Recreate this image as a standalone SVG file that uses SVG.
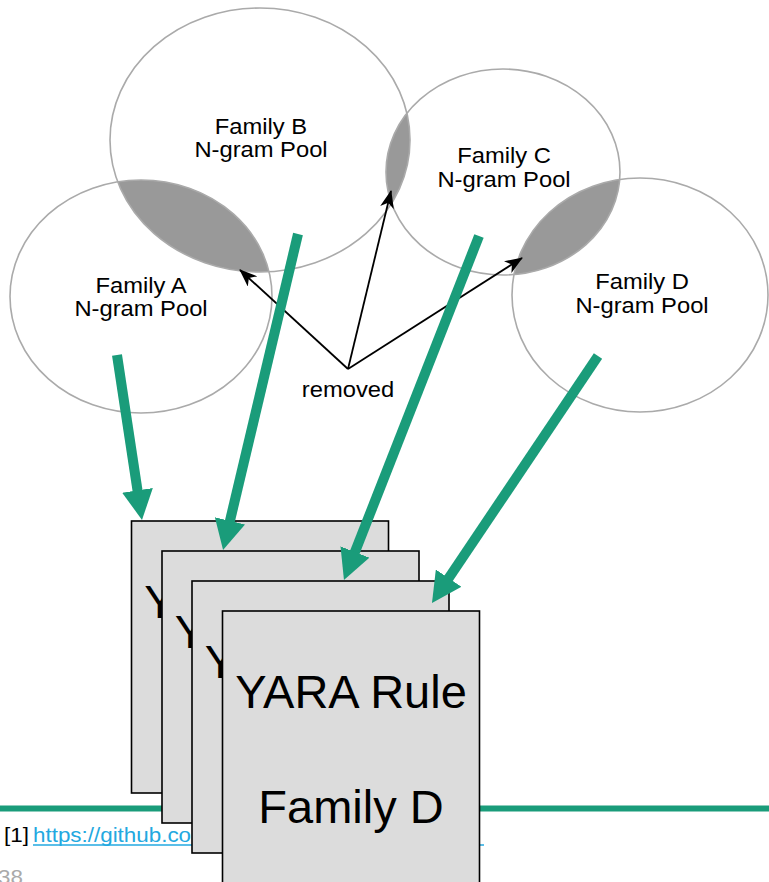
<svg xmlns="http://www.w3.org/2000/svg" width="769" height="882" viewBox="0 0 769 882">
  <style>
    .pool { fill: none; stroke: #aaaaaa; stroke-width: 1.6; }
    .lens { fill: #999999; }
    .lbl { font-family: "Liberation Sans", Arial, sans-serif; font-size: 22px; fill: #000; text-anchor: middle; }
    .card { fill: #dcdcdc; stroke: #000; stroke-width: 1.6; }
    .cardtxt { font-family: "Liberation Sans", Arial, sans-serif; font-size: 47px; fill: #000; text-anchor: middle; }
    .flow { stroke: #1a9c7a; stroke-width: 10; fill: none; }
    .rm { stroke: #000; stroke-width: 1.8; fill: none; }
    .foot { font-family: "Liberation Sans", Arial, sans-serif; font-size: 20px; }
  </style>
  <defs>
    <clipPath id="clipB"><ellipse cx="260" cy="140" rx="150" ry="132"/></clipPath>
    <clipPath id="clipD"><ellipse cx="640" cy="295" rx="128" ry="117"/></clipPath>
    <marker id="greenHead" viewBox="0 0 30 31" markerWidth="30" markerHeight="31" refX="2" refY="15.5" orient="auto" markerUnits="userSpaceOnUse">
      <path d="M0,0 L30,15.5 L0,31 z" fill="#1a9c7a"/>
    </marker>
    <marker id="blackHead" viewBox="0 0 18 14" markerWidth="18" markerHeight="14" refX="17" refY="7" orient="auto" markerUnits="userSpaceOnUse">
      <path d="M0,0 L18,7 L0,14 L5,7 z" fill="#000"/>
    </marker>
  </defs>

  <!-- separator rule and footnote -->
  <line x1="0" y1="808.5" x2="769" y2="808.5" stroke="#1a9c7a" stroke-width="6"/>
  <text class="foot" transform="translate(4,842) scale(1.12,1)" fill="#000">[1]</text>
  <text class="foot" transform="translate(33,842) scale(1.12,1)" fill="#23a8e0">https://github.com</text>
  <line x1="33" y1="845" x2="484" y2="845" stroke="#23a8e0" stroke-width="1.5"/>
  <text class="foot" transform="translate(-2,884) scale(1.12,1)" fill="#aaaaaa" font-size="17">38</text>

  <!-- shared n-grams between neighbouring pools -->
  <g id="overlaps">
    <ellipse class="lens" cx="141" cy="296.5" rx="131" ry="116.5" clip-path="url(#clipB)"/>
    <ellipse class="lens" cx="503" cy="172" rx="117" ry="103" clip-path="url(#clipB)"/>
    <ellipse class="lens" cx="503" cy="172" rx="117" ry="103" clip-path="url(#clipD)"/>
  </g>
  <g id="poolA">
    <ellipse class="pool" cx="141" cy="296.5" rx="131" ry="116.5"/>
    <text class="lbl" transform="translate(141,293) scale(1.08,1)"><tspan x="0" y="0">Family A</tspan><tspan x="0" y="23">N-gram Pool</tspan></text>
  </g>
  <g id="poolB">
    <ellipse class="pool" cx="260" cy="140" rx="150" ry="132"/>
    <text class="lbl" transform="translate(261,134) scale(1.08,1)"><tspan x="0" y="0">Family B</tspan><tspan x="0" y="23">N-gram Pool</tspan></text>
  </g>
  <g id="poolC">
    <ellipse class="pool" cx="503" cy="172" rx="117" ry="103"/>
    <text class="lbl" transform="translate(504,163) scale(1.08,1)"><tspan x="0" y="0">Family C</tspan><tspan x="0" y="24">N-gram Pool</tspan></text>
  </g>
  <g id="poolD">
    <ellipse class="pool" cx="640" cy="295" rx="128" ry="117"/>
    <text class="lbl" transform="translate(642,289) scale(1.08,1)"><tspan x="0" y="0">Family D</tspan><tspan x="0" y="24">N-gram Pool</tspan></text>
  </g>

  <!-- removed n-grams -->
  <g id="removed">
    <text class="lbl" transform="translate(348,397) scale(1.08,1)">removed</text>
  </g>

  <!-- stacked YARA rule cards -->
  <g id="ruleA">
    <rect class="card" x="131.5" y="521" width="257" height="272"/>
    <text class="cardtxt" x="260" y="618">YARA Rule</text>
  </g>
  <g id="ruleB">
    <rect class="card" x="162" y="551" width="257" height="272"/>
    <text class="cardtxt" x="290.5" y="648">YARA Rule</text>
  </g>
  <g id="ruleC">
    <rect class="card" x="192" y="581" width="257" height="272"/>
    <text class="cardtxt" x="320.5" y="678">YARA Rule</text>
  </g>
  <g id="ruleD">
    <rect class="card" x="222.5" y="611" width="257" height="280"/>
    <text class="cardtxt" x="351" y="708">YARA Rule</text>
    <text class="cardtxt" x="351" y="823">Family D</text>
  </g>

  <!-- connectors -->
  <g id="connectors">
    <line class="rm" x1="348" y1="369" x2="240" y2="270" marker-end="url(#blackHead)"/>
    <line class="rm" x1="348" y1="369" x2="391" y2="191" marker-end="url(#blackHead)"/>
    <line class="rm" x1="348" y1="369" x2="522" y2="258" marker-end="url(#blackHead)"/>
    <line class="flow" x1="117" y1="355" x2="137.8" y2="492.3" marker-end="url(#greenHead)"/>
    <line class="flow" x1="298" y1="234" x2="229.5" y2="522.8" marker-end="url(#greenHead)"/>
    <line class="flow" x1="479" y1="236" x2="354.2" y2="553.9" marker-end="url(#greenHead)"/>
    <line class="flow" x1="598" y1="356" x2="447.6" y2="579.8" marker-end="url(#greenHead)"/>
  </g>
</svg>
